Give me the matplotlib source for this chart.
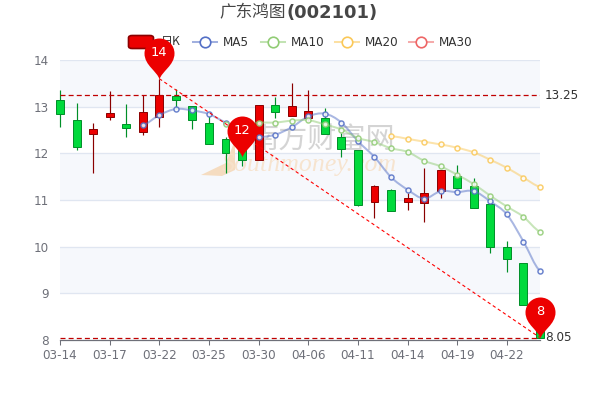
"""Candlestick chart of 002101 with moving averages and pin markers."""

import matplotlib
matplotlib.use("Agg")

import matplotlib.pyplot as plt
from matplotlib.patches import FancyBboxPatch, PathPatch, Polygon
from matplotlib.path import Path

plt.rcParams["font.family"] = ["DejaVu Sans", "Noto Sans CJK SC"]

TICK_LABELS = ["03-14", "03-17", "03-22", "03-25", "03-30", "04-06", "04-11", "04-14", "04-19", "04-22"]
Y_TICKS = [8, 9, 10, 11, 12, 13, 14]

OPENS = [13.14, 12.71, 12.42, 12.78, 12.62, 12.45, 12.78, 13.22, 13.01, 12.66, 12.30, 12.10, 11.85, 13.04, 12.79,
         12.75, 12.75, 12.36, 12.07, 10.96, 11.21, 10.96, 10.94, 11.19, 11.52, 11.30, 10.91, 10.00, 9.64, 8.30]
CLOSES = [12.84, 12.14, 12.52, 12.86, 12.55, 12.89, 13.26, 13.15, 12.71, 12.20, 12.00, 11.85, 13.04, 12.89, 13.01,
          12.90, 12.41, 12.09, 10.90, 11.31, 10.76, 11.05, 11.16, 11.64, 11.25, 10.82, 9.99, 9.73, 8.76, 8.05]
HIGHS = [13.36, 13.08, 12.65, 13.34, 13.06, 13.25, 13.60, 13.37, 13.01, 12.79, 12.36, 12.20, 13.04, 13.21, 13.50,
         13.36, 12.97, 12.44, 12.07, 11.33, 11.24, 11.16, 11.68, 11.64, 11.75, 11.47, 10.91, 10.12, 9.66, 8.30]
LOWS = [12.57, 12.08, 11.58, 12.71, 12.34, 12.40, 12.57, 12.95, 12.52, 12.20, 11.58, 11.73, 11.85, 12.76, 12.79,
        12.70, 12.41, 11.93, 10.88, 10.61, 10.76, 10.79, 10.52, 11.05, 11.25, 10.82, 9.87, 9.45, 8.76, 8.05]

MA5 = [12.60, 12.82, 12.95, 12.92, 12.84, 12.66, 12.50, 12.36, 12.40, 12.56, 12.79, 12.85, 12.66, 12.26, 11.92,
       11.49, 11.22, 11.03, 11.19, 11.17, 11.19, 10.97, 10.69, 10.11, 9.48]
MA10 = [12.63, 12.63, 12.66, 12.66, 12.70, 12.71, 12.62, 12.51, 12.33, 12.24, 12.11, 12.03, 11.84, 11.72, 11.54,
        11.34, 11.09, 10.86, 10.64, 10.32]
MA20 = [12.37, 12.31, 12.25, 12.19, 12.12, 12.02, 11.86, 11.69, 11.48, 11.28]

MA_COLORS = {"MA5": "#5470c6", "MA10": "#91cc75", "MA20": "#fac858", "MA30": "#ee6666"}
RED = "#ec0000"
RED_DARK = "#8a0000"
GREEN = "#00da3c"
GREEN_DARK = "#008f28"
AXIS = "#6e7079"
BAND = "#f6f8fc"
GRID = "#e0e6f1"
INK = "#333333"

PIN_VERTS = [(0, 0), (-2, 8), (-15, 14), (-15, 26), (-15, 34.3), (-8.3, 41), (0, 41),
             (8.3, 41), (15, 34.3), (15, 26), (15, 14), (2, 8), (0, 0)]
PIN_CODES = [Path.MOVETO] + [Path.CURVE4] * 12
PIN = Path(PIN_VERTS, PIN_CODES)
AXES_RECT = [60 / 600, 60 / 400, 480 / 600, 280 / 400]


def smooth_path(xs, ys):
    verts = [(xs[0], ys[0])]
    codes = [Path.MOVETO]
    for i in range(len(xs) - 1):
        prev_y = ys[max(i - 1, 0)]
        next_y = ys[min(i + 2, len(ys) - 1)]
        verts += [(xs[i] + 0.33, ys[i] + (ys[i + 1] - prev_y) / 6),
                  (xs[i + 1] - 0.33, ys[i + 1] - (next_y - ys[i]) / 6),
                  (xs[i + 1], ys[i + 1])]
        codes += [Path.CURVE4] * 3
    return Path(verts, codes)


def draw_ma(ax, values, color):
    xs = list(range(30 - len(values), 30))
    ax.add_patch(PathPatch(smooth_path(xs, values), facecolor="none", edgecolor=color,
                           linewidth=1.45, alpha=0.5, zorder=5, clip_on=False))
    ax.plot(xs, values, linestyle="none", marker="o", markersize=3.6, markerfacecolor="#ffffff",
            markeredgecolor=color, markeredgewidth=1.1, alpha=0.85, zorder=6, clip_on=False)


def draw_pin(ax, x, y, label):
    # custom marker paths get rescaled by their largest vertex (41), 72/100 pt per px
    size = 2 * 41 * 0.72
    ax.plot([x], [y], marker=PIN, markersize=size, color=RED, markeredgewidth=0, zorder=10, clip_on=False)
    ax.annotate(label, (x, y), xytext=(0, 18.5), textcoords="offset points", ha="center", va="center",
                fontsize=9.4, color="#ffffff", zorder=11)


fig = plt.figure(figsize=(6, 4), dpi=100, facecolor="#ffffff")

# bands and grid go on their own axes so the watermark can sit between them and the candles
bg = fig.add_axes(AXES_RECT, zorder=0)
bg.set_xlim(0, 29)
bg.set_ylim(8, 14)
bg.axis("off")
for low in [13, 11, 9]:
    bg.axhspan(low, low + 1, facecolor=BAND, edgecolor="none", zorder=0)
for value in Y_TICKS[1:]:
    bg.axhline(value, color=GRID, linewidth=0.95, zorder=1)

fig.text(322 / 600, 1 - 141 / 400, "南方财富网", fontsize=21, color="#b8b8b8", alpha=0.6,
         ha="center", va="center", family=["Noto Sans CJK SC"], zorder=1)
fig.text(309 / 600, 1 - 165 / 400, "Southmoney.com", fontsize=18.6, color="#f7e2cb", alpha=0.9,
         ha="center", va="center", family="Liberation Serif", style="italic", zorder=1)
fig.add_artist(Polygon([(235 / 600, 1 - 140 / 400), (226 / 600, 1 - 163 / 400), (201 / 600, 1 - 175 / 400),
                        (222 / 600, 1 - 176 / 400), (235 / 600, 1 - 170 / 400)],
                       closed=True, transform=fig.transFigure, facecolor="#f5dcc0", edgecolor="none", zorder=1))

ax = fig.add_axes(AXES_RECT, zorder=3)
ax.set_xlim(0, 29)
ax.set_ylim(8, 14)
ax.patch.set_visible(False)

xs = range(len(OPENS))
for i in xs:
    up = CLOSES[i] > OPENS[i]
    face = RED if up else GREEN
    edge = RED_DARK if up else GREEN_DARK
    ax.vlines(i, LOWS[i], HIGHS[i], color=edge, linewidth=0.85, zorder=3, clip_on=False)
    ax.bar(i, abs(CLOSES[i] - OPENS[i]), bottom=min(OPENS[i], CLOSES[i]), width=0.48,
           facecolor=face, edgecolor=edge, linewidth=0.7, zorder=4, clip_on=False)

draw_ma(ax, MA5, MA_COLORS["MA5"])
draw_ma(ax, MA10, MA_COLORS["MA10"])
draw_ma(ax, MA20, MA_COLORS["MA20"])

ax.axhline(13.25, color="#c00000", linewidth=0.9, linestyle=(0, (4, 2.5)), zorder=7)
ax.axhline(8.05, color="#c00000", linewidth=0.9, linestyle=(0, (4, 2.5)), zorder=7)
ax.plot([6, 29], [13.6, 8.05], color="#ff0000", linewidth=0.8, linestyle=(0, (3, 2.5)), zorder=7, clip_on=False)
ax.text(1.01, 13.25, "13.25", transform=ax.get_yaxis_transform(), fontsize=8.64, color=INK, va="center")
ax.text(1.01, 8.05, "8.05", transform=ax.get_yaxis_transform(), fontsize=8.64, color=INK, va="center")

draw_pin(ax, 6, 13.6, "14")
draw_pin(ax, 11, 11.93, "12")
draw_pin(ax, 29, 8.05, "8")

for side in ["top", "right", "left"]:
    ax.spines[side].set_visible(False)
ax.spines["bottom"].set_color(AXIS)
ax.spines["bottom"].set_linewidth(0.9)
ax.set_xticks(list(range(0, 30, 3)))
ax.set_xticklabels(TICK_LABELS)
ax.set_yticks(Y_TICKS)
ax.tick_params(axis="x", colors=AXIS, labelsize=8.64, length=3.6, width=0.75, pad=3)
ax.tick_params(axis="y", colors=AXIS, labelsize=8.64, length=0, pad=8)

# title, two weights side by side
fig.text(286 / 600, 1 - 13 / 400, "广东鸿图", fontsize=12, color="#464646", ha="right", va="center",
         family=["Noto Sans CJK SC"])
fig.text(286 / 600, 1 - 13 / 400, "(002101)", fontsize=12.9, color="#464646", ha="left", va="center",
         fontweight="bold")

# legend
fig.add_artist(FancyBboxPatch((128.5 / 600, 1 - 48.5 / 400), 25 / 600, 13 / 400, transform=fig.transFigure,
                              boxstyle="round,pad=0,rounding_size=0.006", facecolor=RED, edgecolor=RED_DARK,
                              linewidth=1.2, zorder=1))
fig.text(161 / 600, 1 - 42 / 400, "日K", fontsize=8.64, color=INK, va="center", zorder=1,
         family=["Noto Sans CJK SC", "DejaVu Sans"])
legend_items = [("MA5", 193, 223), ("MA10", 261, 291), ("MA20", 335, 365), ("MA30", 409, 439)]
for name, x0, x_text in legend_items:
    color = MA_COLORS[name]
    fig.add_artist(plt.Line2D([x0 / 600, (x0 + 24) / 600], [1 - 42 / 400] * 2, transform=fig.transFigure,
                              color=color, linewidth=1.45, alpha=0.55))
    fig.add_artist(plt.Line2D([(x0 + 12) / 600], [1 - 42 / 400], transform=fig.transFigure, marker="o",
                              markersize=7.6, markerfacecolor="#ffffff", markeredgecolor=color,
                              markeredgewidth=1.2, linestyle="none"))
    fig.text(x_text / 600, 1 - 42 / 400, name, fontsize=8.64, color=INK, va="center")

fig.savefig("out.png", dpi=100, facecolor="#ffffff")
